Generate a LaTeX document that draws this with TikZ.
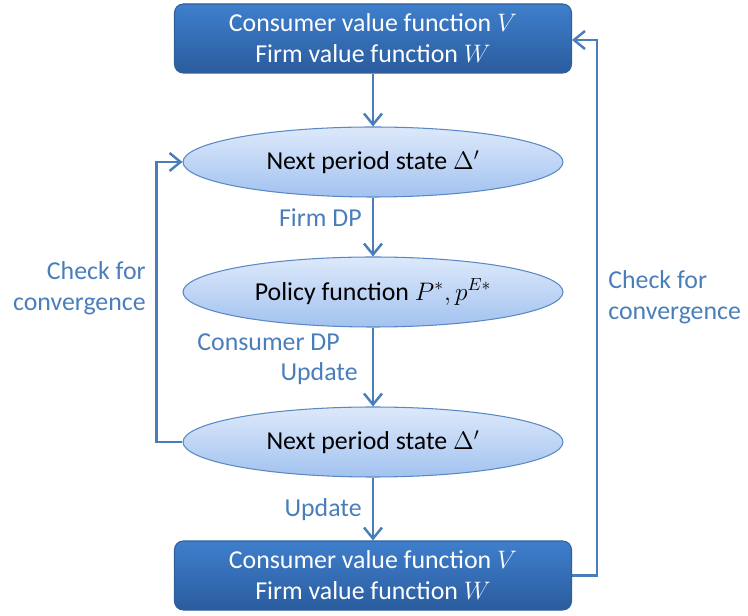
\documentclass[tikz,border=0pt]{standalone}
\usepackage{fontspec}
\setmainfont{Carlito}
\usepackage{amsmath}
\usetikzlibrary{shapes.geometric,arrows.meta,positioning,calc}

\definecolor{flowblue}{HTML}{4A7EBB}
\definecolor{boxtop}{HTML}{3F7FCC}
\definecolor{boxbot}{HTML}{2A5C9E}
\definecolor{boxedge}{HTML}{2F6099}
\definecolor{elltop}{HTML}{DDE9FB}
\definecolor{ellbot}{HTML}{A2C2EF}
\definecolor{elledge}{HTML}{5A88C4}

\begin{document}
\begin{tikzpicture}[
    valbox/.style={draw=boxedge, line width=0.6pt, rounded corners=5pt,
        top color=boxtop, bottom color=boxbot, text=white,
        minimum width=7.94cm, minimum height=1.38cm, align=center,
        font=\fontsize{14.7}{17.6}\selectfont},
    statell/.style={ellipse, draw=elledge, line width=0.6pt,
        top color=elltop, bottom color=ellbot, text=black, inner sep=0pt,
        minimum width=7.6cm, minimum height=1.4cm,
        font=\fontsize{14.7}{17.6}\selectfont},
    flow/.style={draw=flowblue, line width=1.4pt,
        -{Straight Barb[length=2.2mm,width=3.6mm,line width=1.4pt]}},
    lbl/.style={text=flowblue, inner sep=0pt, font=\fontsize{14.7}{17.6}\selectfont}
]
    \useasboundingbox (0,0) rectangle (14.96,12.3);

    % Boîtes et états
    \node[valbox] (topval) at (7.46,11.53) {Consumer value function $V$\\Firm value function $W$};
    \node[statell] (nextA) at (7.46,9.06) {Next period state $\Delta'$};
    \node[statell] (policy) at (7.46,6.46) {Policy function $P^{*}, p^{E*}$};
    \node[statell] (nextB) at (7.46,3.46) {Next period state $\Delta'$};
    \node[valbox] (botval) at (7.46,0.79) {Consumer value function $V$\\Firm value function $W$};

    % Flèches verticales
    \draw[flow] (topval) -- (nextA);
    \draw[flow] (nextA) -- (policy);
    \draw[flow] (policy) -- (nextB);
    \draw[flow] (nextB) -- (botval);

    % Boucles
    \draw[flow] (nextB.west) -- ++(-0.52,0) |- (nextA.west);
    \draw[flow] (botval.east) -- ++(0.5,0) |- ($(topval.east)+(0,-0.03)$);

    % Étiquettes
    \node[lbl, anchor=east] (firmdp) at (7.24,7.94) {Firm DP};
    \node[lbl, anchor=east] (consdp) at (6.80,5.46) {Consumer DP};
    \node[lbl, anchor=east] (upd1) at (7.16,4.82) {Update};
    \node[lbl, anchor=east] (upd2) at (7.24,2.10) {Update};
    \node[lbl, anchor=east, align=right] (chkL) at (2.92,6.54) {Check for\\convergence};
    \node[lbl, anchor=west, align=left] (chkR) at (12.16,6.36) {Check for\\convergence};
\end{tikzpicture}
\end{document}
